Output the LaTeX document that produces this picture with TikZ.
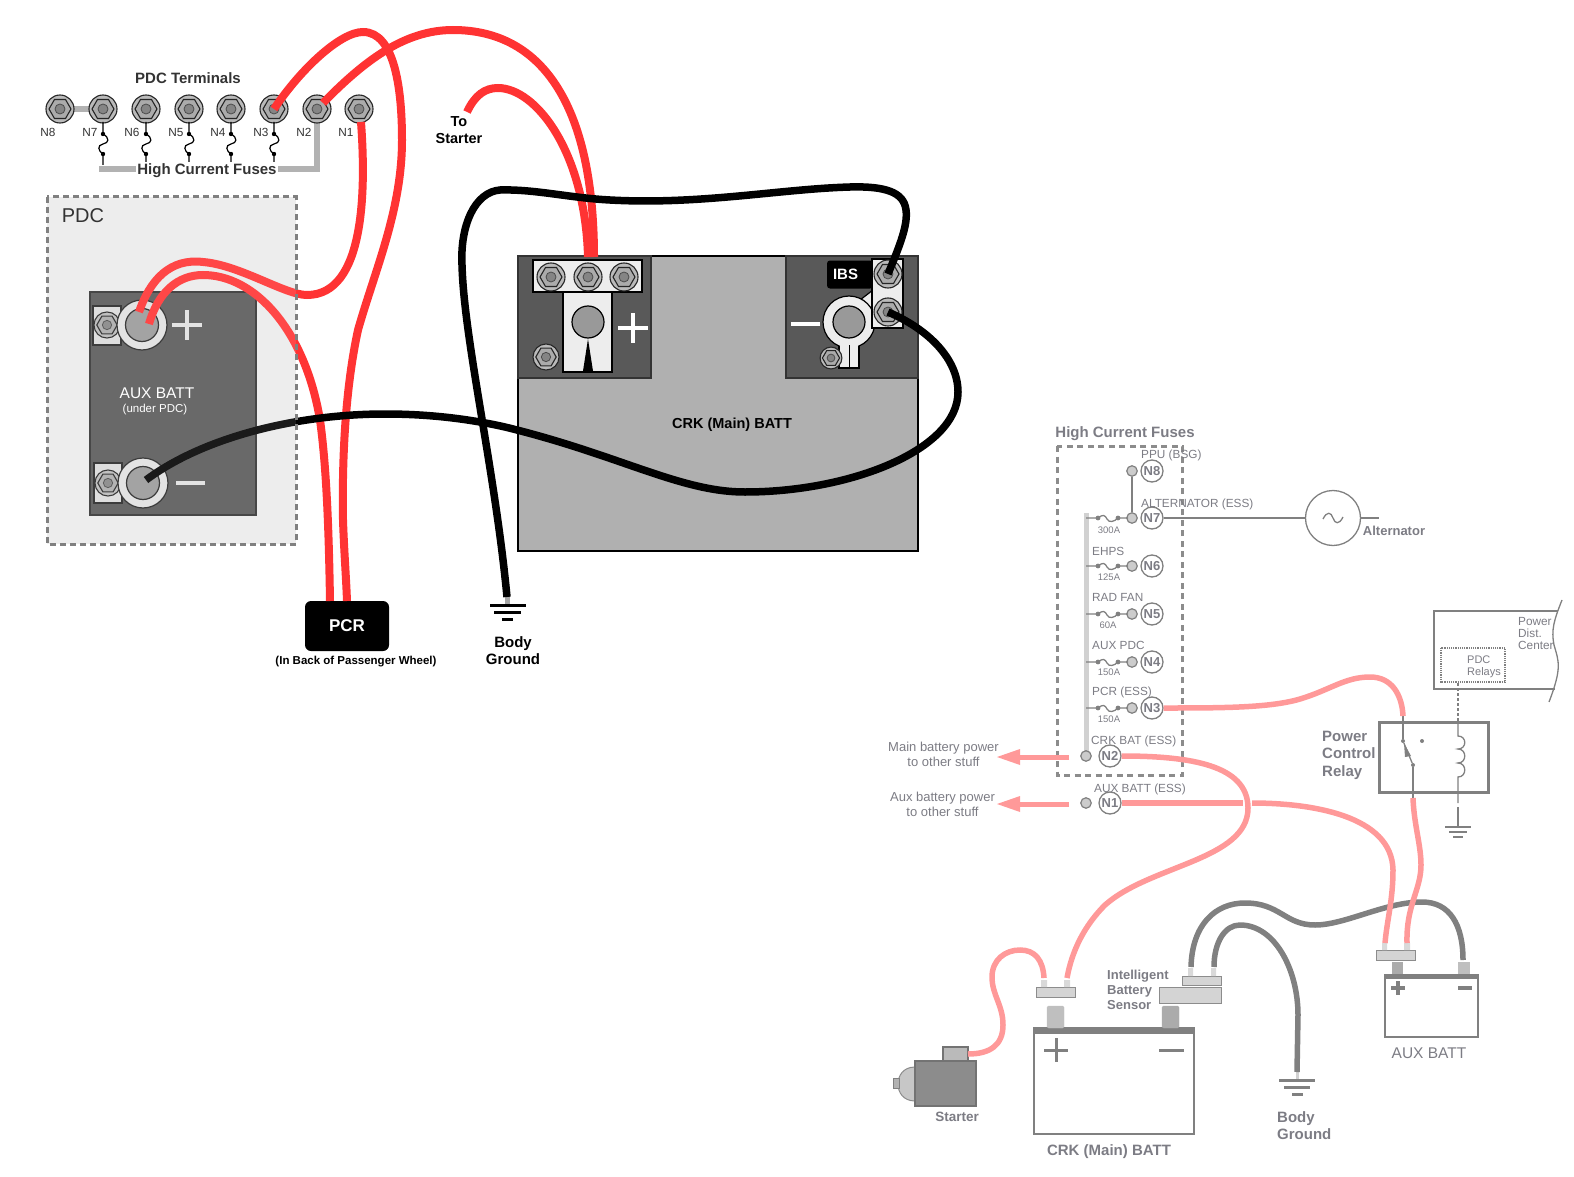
\documentclass[tikz,border=0pt]{standalone}
\usepackage{fontspec}
\setmainfont{Liberation Sans}
\definecolor{cablered}{HTML}{FF3333}
\definecolor{cablepink}{HTML}{FF9999}
\definecolor{cablegrey}{HTML}{808080}
\definecolor{wiregrey}{HTML}{808080}
\definecolor{inkgrey}{HTML}{7C7C84}
\definecolor{darkink}{HTML}{333333}
\tikzset{
  redcable/.style={cablered,line width=8pt},
  blackcable/.style={black,line width=7.5pt},
  pinkcable/.style={cablepink,line width=5.5pt},
  greycable/.style={cablegrey,line width=5.5pt},
  wire/.style={wiregrey,line width=1.3pt},
  lab/.style={inner sep=0pt,font=\fontsize{11.8}{14}\selectfont},
  toplab/.style={lab,darkink,font=\bfseries\fontsize{15}{17}\selectfont,align=center},
  greylab/.style={lab,inkgrey,anchor=west},
  amps/.style={lab,inkgrey,font=\fontsize{9.5}{11}\selectfont},
  boldgrey/.style={lab,inkgrey,align=left,font=\bfseries\fontsize{15}{17.5}\selectfont},
  midgrey/.style={lab,inkgrey,align=left,font=\bfseries\fontsize{13}{15}\selectfont},
  tinydot/.style={circle,fill=wiregrey,inner sep=0pt,minimum size=4pt},
  stud/.style={circle,draw=wiregrey,fill=black!20,line width=1.2pt,inner sep=0pt,minimum size=10.5pt},
  ncircle/.style={circle,draw=wiregrey,fill=white,line width=1.3pt,inner sep=0pt,minimum size=22pt,
    text=inkgrey,font=\bfseries\fontsize{13}{14}\selectfont},
  clamp/.style={draw=black!45,fill=black!17,line width=1pt},
  bolt/.pic={
    \draw[black!85,fill=black!27,line width=1.1pt] (0,0) circle (14);
    \draw[black!85,fill=black!33,line width=1.1pt] (0:11) -- (60:11) -- (120:11) -- (180:11) -- (240:11) -- (300:11) -- cycle;
    \draw[black!70,fill=black!48,line width=.8pt] (0,0) circle (5);
  },
  vfuse/.pic={
    \draw[black,line width=1.2pt] (0,-12) -- (0,0) .. controls (7,4) and (6,9) .. (0,10) .. controls (-6,11) and (-5,17) .. (0,20) -- (0,31);
    \fill[black] (0,0) circle (2.2) (0,20) circle (2.2);
  },
  hfuse/.pic={
    \draw[wire] (-12,0) -- (0,0) .. controls (5,-4) and (7,-3) .. (9,1) .. controls (11,5) and (16,4) .. (20,0) -- (30,0);
    \fill[wiregrey] (0,0) circle (2.4) (20,0) circle (2.4);
  },
}
\begin{document}
\begin{tikzpicture}[x=1pt,y=-1pt]
  \useasboundingbox (0,0) rectangle (1574,1177);
  % pdc terminals
  \draw[black!30,line width=6pt] (60,109) -- (103,109);
  \draw[black!30,line width=6pt,line join=miter] (99,169) -- (317,169) -- (317,109);
  \foreach \x/\n/\lx in {60/8/48,103/7/90,146/6/132,189/5/176,231/4/218,274/3/261,317/2/304,359/1/346} {
    \coordinate (t\n) at (\x,109);
    \pic at (t\n) {bolt};
    \node[lab,darkink] (l\n) at (\lx,132.5) {N\n};
  }
  \foreach \x in {103,146,189,231,274}
    \pic at (\x,134) {vfuse};
  \node[toplab] (pdcterm) at (188,78) {PDC Terminals};
  \node[toplab,fill=white,inner xsep=1pt,inner ysep=1pt] (hcf) at (207,170.5) {High Current Fuses};
  \node[toplab,black,font=\bfseries\fontsize{14.5}{17}\selectfont] (tostarter) at (459,130) {To\\Starter};

  % aux batt
  \fill[black!8] (47,197) rectangle (296,544);
  \draw[black!80,fill=black!65,line width=2.5pt] (90,292) rectangle (256,515);
  \draw[black!85,fill=black!14,line width=1.2pt] (93,306) rectangle (121,345);
  \draw[black!85,fill=black!14,line width=1.2pt] (94,463) rectangle (122,503);
  \pic[scale=.93] at (107,325) {bolt};
  \pic[scale=.93] at (108,483) {bolt};
  \coordinate (auxplus) at (142,325);
  \coordinate (auxminus) at (143,483);
  \draw[black!85,fill=black!12,line width=1.2pt] (auxplus) circle (25);
  \draw[black!85,fill=black!40,line width=1.2pt] (auxplus) circle (16.5);
  \draw[black!85,fill=black!12,line width=1.2pt] (auxminus) circle (25);
  \draw[black!85,fill=black!40,line width=1.2pt] (auxminus) circle (16.5);
  \draw[black!12,line width=4pt] (172,325) -- (202,325) (187,310) -- (187,340);
  \draw[black!12,line width=4pt] (176,483) -- (205,483);
  \node[lab,white,font=\fontsize{15.5}{17}\selectfont] (auxname) at (157,393) {AUX BATT};
  \node[lab,white,font=\fontsize{11.5}{13}\selectfont] (auxsub) at (155,410) {(under PDC)};

  % crk batt
  \draw[black,fill=black!31,line width=2.5pt] (518,256) rectangle (918,551);
  \draw[black!80,fill=black!65,line width=2.5pt] (518,256) rectangle (651,378);
  \draw[black!80,fill=black!65,line width=2.5pt] (786,256) rectangle (918,378);
  \draw[black,fill=black!7,line width=1.2pt] (533,260) rectangle (642,292);
  \draw[black,fill=black!7,line width=1.2pt] (563,292) rectangle (612,372);
  \pic at (551,277) {bolt};
  \pic at (588,277) {bolt};
  \pic at (624,277) {bolt};
  \pic[scale=.93] at (546,357) {bolt};
  \draw[black,fill=black!40,line width=1.2pt] (588,322) circle (16);
  \fill[black] (583,371) -- (588,339) -- (593,371) -- cycle;
  \draw[white,line width=4pt] (618,328) -- (648,328) (633,313) -- (633,343);
  \draw[white,line width=4pt] (791,324) -- (820,324);
  \node[fill=black,rounded corners=3pt,inner sep=0pt,minimum width=46pt,minimum height=28pt] (ibs) at (850,274.5) {};
  \node[inner sep=0pt,text=white,font=\bfseries\fontsize{15}{17}\selectfont] (ibstext) at (845.5,274.5) {IBS};
  \draw[black,fill=black!7,line width=1.2pt] (839,340) -- (839,368) -- (859,368) -- (859,340) -- cycle;
  \draw[black,fill=black!7,line width=1.2pt] (860,300) -- (873,290) -- (873,310) -- cycle;
  \draw[black,fill=black!7,line width=1.2pt] (849,322) circle (26);
  \fill[black!7] (840,340) rectangle (858,367);
  \draw[black,fill=black!40,line width=1.2pt] (849,322) circle (16);
  \draw[black,line width=1pt] (849,345) -- (849,368);
  \draw[black,fill=black!7,line width=1.2pt] (872,259) rectangle (903,328);
  \coordinate (ibstop) at (888,274);
  \coordinate (ibsbot) at (888,312);
  \pic at (ibstop) {bolt};
  \pic at (ibsbot) {bolt};
  \pic[scale=.78] at (831,358) {bolt};
  \node[lab,black,font=\bfseries\fontsize{14.5}{17}\selectfont] (crkname) at (732,425) {CRK (Main) BATT};

  % pcr and ground
  \node[fill=black,rounded corners=6pt,text=white,inner sep=0pt,minimum width=84pt,minimum height=50pt,
    font=\bfseries\fontsize{17}{19}\selectfont] (pcr) at (347,626) {PCR};
  \node[lab,black,font=\bfseries\fontsize{11.5}{13}\selectfont] (pcrsub) at (356,662) {(In Back of Passenger Wheel)};
  \coordinate (gnd) at (507,597);
  \draw[black!35,line width=5pt] (gnd) -- (507,604);
  \draw[black,line width=3pt] (490,605) -- (526,605) (494,612) -- (521,612) (502,619) -- (513,619);
  \node[toplab,black] (bodyg) at (513,650.5) {Body\\Ground};

  % cables
  \coordinate (n2out) at (323,103);
  \coordinate (n1out) at (361,122);
  \coordinate (starterout) at (467,112);
  \coordinate (crkpos1) at (594,257);
  \coordinate (crkpos2) at (588,257);
  \coordinate (pcr1) at (347,601);
  \coordinate (pcr2) at (330,601);
  \coordinate (auxin1) at (139,312);
  \coordinate (auxin2) at (149,324);
  \coordinate (auxgnd) at (146,480);
  \draw[redcable] (t3) .. controls (300,70) and (340,32) .. (363,32) .. controls (395,32) and (402,90) .. (402,140)
    .. controls (402,210) and (375,270) .. (358,330) .. controls (345,390) and (342,460) .. (343,520) .. controls (344,550) and (346,575) .. (pcr1);
  \draw[redcable] (n2out) .. controls (365,60) and (405,30) .. (453,30) .. controls (545,30) and (594,110) .. (crkpos1);
  \draw[redcable] (starterout) .. controls (475,95) and (485,88) .. (498,88) .. controls (535,88) and (585,150) .. (crkpos2);
  \draw[redcable] (n1out) .. controls (366,190) and (365,295) .. (307,295) .. controls (285,295) and (240,265) .. (203,262) .. controls (170,258) and (150,280) .. (auxin1);
  \draw[redcable] (auxin2) .. controls (158,292) and (178,275) .. (203,275) .. controls (255,275) and (305,330) .. (320,420) .. controls (327,470) and (329,540) .. (pcr2);
  \draw[blackcable] (ibstop) .. controls (900,245) and (908,225) .. (906,210) .. controls (904,192) and (885,186) .. (850,187)
    .. controls (780,189) and (700,205) .. (610,200) .. controls (570,198) and (535,189) .. (500,190)
    .. controls (475,192) and (460,225) .. (462,265) .. controls (464,340) and (495,470) .. (gnd);
  \draw[blackcable] (ibsbot) .. controls (930,330) and (958,360) .. (958,392) .. controls (958,450) and (850,492) .. (745,492)
    .. controls (680,492) and (620,455) .. (505,427) .. controls (465,418) and (425,414) .. (385,414) .. controls (300,414) and (205,436) .. (auxgnd);
  \fill[white,opacity=.1] (47,197) rectangle (296,544);
  \draw[black!50,line width=3pt,dash pattern=on 6pt off 4pt] (47,197) rectangle (296,544);
  \node[lab,darkink,font=\fontsize{20}{22}\selectfont] (pdcname) at (83,216) {PDC};

  % fuse panel
  \node[lab,inkgrey,font=\bfseries\fontsize{15}{17}\selectfont] (fusetitle) at (1125,433.5) {High Current Fuses};
  \draw[black!45,line width=3pt,dash pattern=on 6pt off 4.5pt] (1057,446) rectangle (1182,775);
  \draw[black!18,line width=5pt] (1086,513) -- (1086,752);
  \foreach \n/\y in {8/471,7/518,6/566,5/614,4/662,3/708} {
    \node[stud] (s\n) at (1132,\y) {};
    \node[ncircle] (c\n) at (1152,\y) {N\n};
  }
  \foreach \y in {518,566,614,662,708}
    \pic at (1098,\y) {hfuse};
  \draw[wire] (s8) -- (s7);
  \node[stud] (s2) at (1086,756) {};
  \node[stud] (s1) at (1086,803) {};
  \node[ncircle] (c2) at (1110,756) {N2};
  \node[ncircle] (c1) at (1110,803) {N1};
  \node[greylab] (ppu) at (1141,455) {PPU (BSG)};
  \node[greylab] (alt) at (1141,504) {ALTERNATOR (ESS)};
  \node[greylab] (ehps) at (1092,551) {EHPS};
  \node[greylab] (rad) at (1092,597.5) {RAD FAN};
  \node[greylab] (aux) at (1092,645.5) {AUX PDC};
  \node[greylab] (pcrfuse) at (1092,692) {PCR (ESS)};
  \node[greylab] (crkbat) at (1091,741) {CRK BAT (ESS)};
  \node[greylab] (auxbat) at (1094,789) {AUX BATT (ESS)};
  \node[amps] (a7) at (1109,530) {300A};
  \node[amps] (a6) at (1109,577) {125A};
  \node[amps] (a5) at (1108,625) {60A};
  \node[amps] (a4) at (1109,672) {150A};
  \node[amps] (a3) at (1109,719) {150A};

  % alternator
  \node[circle,draw=wiregrey,line width=1.3pt,inner sep=0pt,minimum size=55pt] (altgen) at (1333,518) {};
  \coordinate (altstub) at (1379,518);
  \draw[wire] (c7) -- (altgen);
  \draw[wire] (altgen) -- (altstub);
  \draw[wire] (1323,519) .. controls (1327,511) and (1331,512) .. (1333,518) .. controls (1335,524) and (1339,525) .. (1343,517);
  \node[midgrey,anchor=center] (altname) at (1394,531) {Alternator};

  % power dist center
  \draw[wiregrey,line width=1.5pt] (1558,611) -- (1434,611) -- (1434,689) -- (1555,689);
  \draw[wiregrey,line width=1.3pt] (1562,600) .. controls (1554,620) and (1551,630) .. (1554,645) .. controls (1559,662) and (1562,668) .. (1549,702);
  \draw[wiregrey,line width=1.2pt,densely dotted] (1441,648) rectangle (1505,682);
  \node[lab,inkgrey,align=left,anchor=west] (pdcplace) at (1518,633) {Power\\[-2pt]Dist.\\[-2pt]Center};
  \node[lab,inkgrey,align=left,anchor=west,font=\fontsize{11}{12}\selectfont] (relays) at (1467,667) {PDC\\Relays};

  % relay
  \draw[wiregrey,line width=3pt] (1379,722) rectangle (1488,792);
  \node[boldgrey,anchor=west] (pcrname) at (1322,755) {Power\\Control\\Relay};
  \node[tinydot] (sw1) at (1403,741) {};
  \node[tinydot] (sw2) at (1422,741) {};
  \node[tinydot] (sw3) at (1413,765) {};
  \coordinate (relayin) at (1403,713);
  \coordinate (relayout) at (1413,798);
  \draw[wire] (relayin) -- (sw1);
  \draw[wire] (relayout) -- (sw3);
  \draw[wire] (sw3) -- (sw1);
  \fill[wiregrey] (1404,743) -- (1411,756) -- (1405,757) -- cycle;
  \draw[wire] (1458,722) -- (1458,736) .. controls (1467,736) and (1467,749) .. (1458,749) .. controls (1467,749) and (1467,763) .. (1458,763) .. controls (1467,763) and (1467,777) .. (1458,777) -- (1458,803);
  \draw[wire] (1458,807) -- (1458,827);
  \draw[wiregrey,line width=1.2pt,densely dashed] (1458,683) -- (1458,722);
  \draw[wiregrey,line width=1.3pt] (1445,827) -- (1471,827) (1449,832) -- (1467,832) (1453,837) -- (1463,837);

  % lower right batteries
  \draw[wiregrey,line width=1.5pt] (1034,1030) rectangle (1194,1134);
  \fill[wiregrey] (1033,1027) rectangle (1195,1034);
  \draw[black!25,fill=black!25,rounded corners=1.5pt] (1047,1006) rectangle (1064,1028);
  \draw[black!33,fill=black!33,rounded corners=1.5pt] (1162,1006) rectangle (1179,1028);
  \draw[wiregrey,line width=3pt] (1044,1050) -- (1068,1050) (1056,1038) -- (1056,1062);
  \draw[wiregrey,line width=3pt] (1159,1050) -- (1184,1050);
  \draw[clamp] (1036,987) rectangle (1075,997);
  \fill[black!15] (1041,980) rectangle (1047,987) (1064,980) rectangle (1070,987);
  \draw[clamp] (1159,987) rectangle (1221,1003);
  \draw[clamp] (1182,976) rectangle (1221,985);
  \fill[black!15] (1188,968) rectangle (1193,976) (1211,968) rectangle (1216,976);
  \node[lab,inkgrey,font=\bfseries\fontsize{15}{17}\selectfont] (crklow) at (1109,1151.5) {CRK (Main) BATT};
  \node[midgrey,anchor=west] (ibslow) at (1107,990) {Intelligent\\Battery\\Sensor};

  \draw[wiregrey,line width=1.5pt] (1385,976) rectangle (1478,1037);
  \fill[wiregrey] (1384,974) rectangle (1479,979);
  \fill[black!33] (1392,962) rectangle (1403,974);
  \fill[black!25] (1458,962) rectangle (1470,974);
  \draw[wiregrey,line width=3.5pt] (1391,988) -- (1405,988) (1398,981) -- (1398,995);
  \draw[wiregrey,line width=3.5pt] (1458,988) -- (1472,988);
  \draw[clamp] (1376,950) rectangle (1415,960);
  \fill[black!15] (1382,943) rectangle (1387,950) (1404,943) rectangle (1410,950);
  \node[lab,inkgrey,font=\fontsize{15.5}{17}\selectfont] (auxlow) at (1429,1053.5) {AUX BATT};

  % starter
  \draw[black!45,fill=black!22,line width=1pt] (915,1067) .. controls (903,1067) and (898,1076) .. (898,1084) .. controls (898,1092) and (903,1101) .. (915,1101) -- cycle;
  \draw[black!50,fill=black!30,line width=1pt] (893,1078) rectangle (899,1088);
  \draw[black!55,fill=black!45,line width=1.3pt] (915,1061) rectangle (976,1106);
  \draw[black!55,fill=black!27,line width=1.3pt] (943,1047) rectangle (968,1061);
  \node[lab,inkgrey,font=\bfseries\fontsize{13.5}{15}\selectfont] (startname) at (957,1117) {Starter};

  % ground
  \draw[black!18,line width=3pt] (1297,1072) -- (1297,1080);
  \draw[wiregrey,line width=3pt] (1279,1080) -- (1315,1080) (1284,1087) -- (1310,1087) (1292,1094) -- (1303,1094);
  \node[boldgrey,anchor=west] (bodylow) at (1277,1125.5) {Body\\Ground};

  % arrows
  \node[lab,inkgrey,align=center,font=\fontsize{13}{15}\selectfont] (mainlab) at (943.5,754.5) {Main battery power\\to other stuff};
  \node[lab,inkgrey,align=center,font=\fontsize{13}{15}\selectfont] (auxlab) at (942.5,804) {Aux battery power\\to other stuff};
  \coordinate (mainend) at (997,757);
  \coordinate (auxend) at (997,804);
  \draw[pinkcable,line width=5pt] (s2) ++(-17,1) -- (1015,757);
  \draw[pinkcable,line width=5pt] (s1) ++(-17,1) -- (1015,804);
  \fill[cablepink] (mainend) -- (1020,749) -- (1020,765) -- cycle;
  \fill[cablepink] (auxend) -- (1020,796) -- (1020,812) -- cycle;

  % pink and grey cables
  \coordinate (ibsup1) at (1191,967);
  \coordinate (ibsup2) at (1214,967);
  \coordinate (auxneg) at (1463,960);
  \coordinate (gndlow) at (1297,1072);
  \coordinate (relaytop) at (1403,716);
  \coordinate (auxbatplus1) at (1385,943);
  \coordinate (auxbatplus2) at (1407,943);
  \coordinate (crkplus1) at (1044,978);
  \coordinate (crkplus2) at (1067,978);
  \coordinate (startin) at (968,1054);
  \draw[greycable] (ibsup1) .. controls (1192,925) and (1215,903) .. (1245,903) .. controls (1280,903) and (1285,925) .. (1315,925)
    .. controls (1345,925) and (1385,902) .. (1422,902) .. controls (1450,902) and (1463,925) .. (auxneg);
  \draw[greycable] (ibsup2) .. controls (1214,942) and (1225,925) .. (1240,925) .. controls (1275,925) and (1298,970) .. (1298,1015) -- (gndlow);
  \draw[pinkcable] (c3.east) .. controls (1220,708) and (1270,708) .. (1300,699) .. controls (1330,690) and (1345,677) .. (1370,677) .. controls (1392,677) and (1402,695) .. (relaytop);
  \draw[pinkcable] (c1.east) -- (1243,803);
  \draw[pinkcable] (1252,803) .. controls (1310,803) and (1392,815) .. (1393,870) .. controls (1393,900) and (1387,920) .. (auxbatplus1);
  \draw[pinkcable] (c2.east) .. controls (1190,756) and (1248,765) .. (1248,808) .. controls (1248,860) and (1150,865) .. (1105,905) .. controls (1085,925) and (1072,950) .. (crkplus2);
  \draw[pinkcable] (relayout) .. controls (1414,825) and (1421,845) .. (1421,865) .. controls (1421,890) and (1406,905) .. (auxbatplus2);
  \draw[pinkcable] (startin) .. controls (990,1054) and (1003,1045) .. (1003,1025) .. controls (1003,1005) and (992,995) .. (992,977) .. controls (992,960) and (1005,950) .. (1020,950) .. controls (1035,950) and (1043,960) .. (crkplus1);
\end{tikzpicture}
\end{document}
